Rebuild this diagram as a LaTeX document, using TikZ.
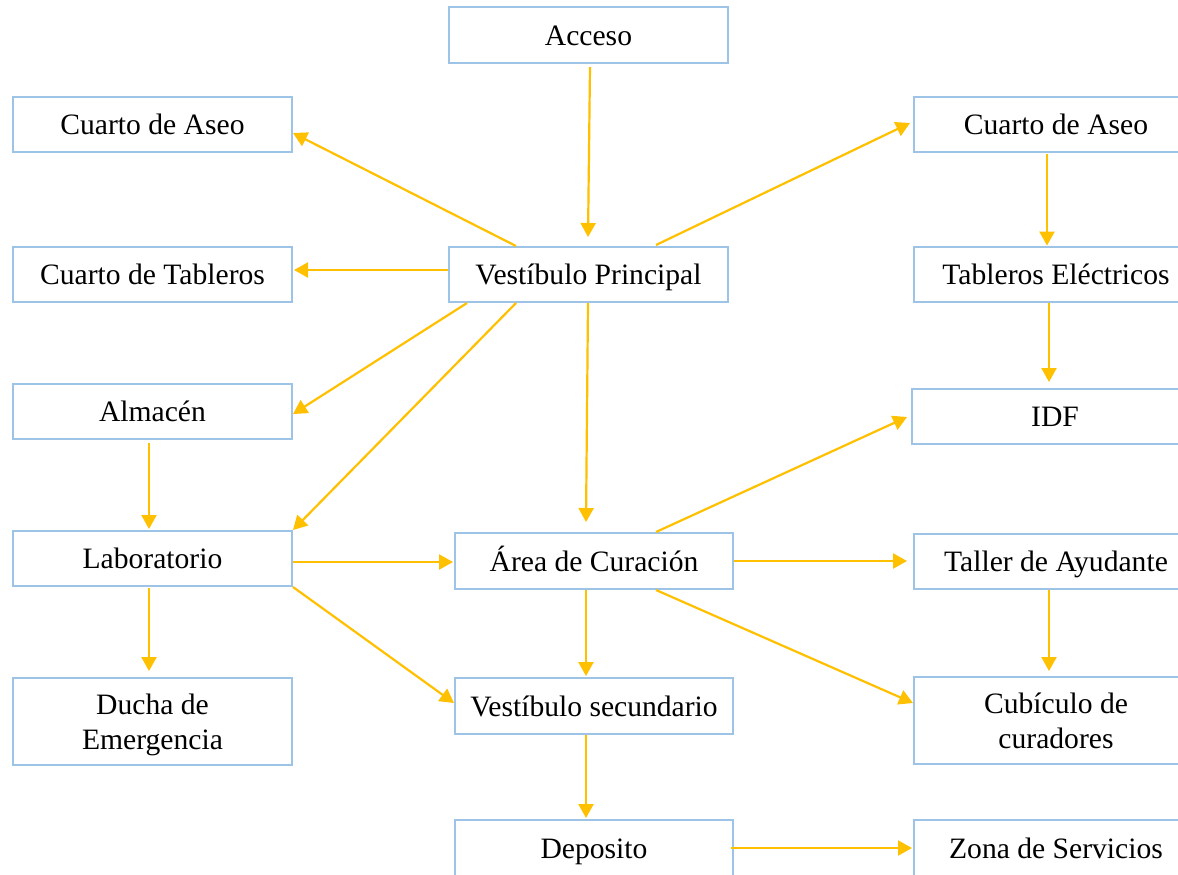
\documentclass[tikz,border=0pt]{standalone}
\usepackage{fontspec}
\setmainfont{Liberation Serif}
\usetikzlibrary{arrows.meta,calc}
\definecolor{boxblue}{HTML}{9DC3E6}
\definecolor{arrowyellow}{HTML}{FFC000}
\tikzset{
  box/.style={draw=boxblue,line width=1pt,inner sep=0pt,align=center,
    font=\fontsize{14.8}{17.5}\selectfont,text=black},
  wbox/.style={box,minimum width=139.5pt,minimum height=27.5pt,
    text height=11.2pt,text depth=1pt},
  tbox/.style={box,minimum width=139.5pt,minimum height=43.5pt,
    text height=28.5pt,text depth=1pt},
  flow/.style={draw=arrowyellow,line width=1.1pt,-{Triangle[length=7pt,width=7.5pt]}}
}
\begin{document}
\begin{tikzpicture}[x=0.5pt,y=-0.5pt]
\useasboundingbox (0,0) rectangle (1178,874);
\fill[white] (0,0) rectangle (1178,874);
\clip (0,0) rectangle (1178,874);
% centre column
\node[wbox,minimum height=28pt] (acc) at (588.5,35) {Acceso};
\node[wbox] (vp) at (588.5,274.5) {Vestíbulo Principal};
\node[wbox,minimum width=139pt,minimum height=28pt] (ac) at (594,561) {Área de Curación};
\node[wbox,minimum width=139pt,minimum height=28pt] (vs) at (594,706) {Vestíbulo secundario};
\node[wbox,minimum width=139pt,minimum height=28pt] (dep) at (594,848) {Deposito};
% left column
\node[wbox] (ca1) at (152.5,124.5) {Cuarto de Aseo};
\node[wbox] (ct) at (152.5,274.5) {Cuarto de Tableros};
\node[wbox] (alm) at (152.5,411.5) {Almacén};
\node[wbox] (lab) at (152.5,558.5) {Laboratorio};
\node[tbox] (du) at (152.5,721.5) {Ducha de\\Emergencia};
% right column
\node[wbox,minimum width=142pt] (ca2) at (1056,124.5) {Cuarto de Aseo};
\node[wbox,minimum width=142pt] (te) at (1056,274.5) {Tableros Eléctricos};
\node[wbox,minimum width=143pt] (idf) at (1055,416.5) {IDF};
\node[wbox,minimum width=142pt] (tal) at (1056,561) {Taller de Ayudante};
\node[tbox,minimum width=142pt] (cub) at (1056,720.5) {Cubículo de\\curadores};
\node[wbox,minimum width=142pt,minimum height=28pt] (zona) at (1056,848) {Zona de Servicios};
% connectors
\draw[flow] ($(acc.south)+(1.5,3)$) -- ($(vp.north)+(-0.5,-9)$);
\draw[flow] ($(vp.north west)+(68,0)$) -- ($(ca1.east)+(0,8.5)$);
\draw[flow] ($(vp.west)+(0,-4.5)$) -- ($(ct.east)+(1,-4.5)$);
\draw[flow] ($(vp.south west)+(19,0)$) -- ($(alm.east)+(0,2.5)$);
\draw[flow] ($(vp.south west)+(68,0)$) -- (lab.north east);
\draw[flow] ($(vp.south)+(-0.5,0)$) -- ($(ac.north)+(-8,-10)$);
\draw[flow] ($(vp.north west)+(208,-1)$) -- ($(ca2.west)+(-3,-1.5)$);
\draw[flow] ($(ca2.south)+(-9,0.5)$) -- ($(te.north)+(-9,-0.5)$);
\draw[flow] ($(te.south)+(-7,0)$) -- ($(idf.north)+(-6,-6)$);
\draw[flow] ($(alm.south)+(-3.5,3)$) -- ($(lab.north)+(-3.5,-1)$);
\draw[flow] ($(lab.east)+(0,3.5)$) -- ($(ac.west)+(-1,1)$);
\draw[flow] (lab.south east) -- ($(vs.west)+(0,-3)$);
\draw[flow] ($(lab.south)+(-3.5,0.5)$) -- ($(du.north)+(-3.5,-6)$);
\draw[flow] ($(ac.north west)+(202,0)$) -- ($(idf.west)+(-4,0.5)$);
\draw[flow] (ac.east) -- ($(tal.west)+(-6,0)$);
\draw[flow] ($(ac.south west)+(202,0)$) -- ($(cub.west)+(0,-17.5)$);
\draw[flow] ($(ac.south)+(-8,0)$) -- ($(vs.north)+(-8,-1)$);
\draw[flow] ($(vs.south)+(-8,0)$) -- ($(dep.north)+(-8,-1)$);
\draw[flow] ($(dep.east)+(-3,0)$) -- ($(zona.west)+(-1,0)$);
\draw[flow] ($(tal.south)+(-7,0)$) -- ($(cub.north)+(-7,-5)$);
\end{tikzpicture}
\end{document}
